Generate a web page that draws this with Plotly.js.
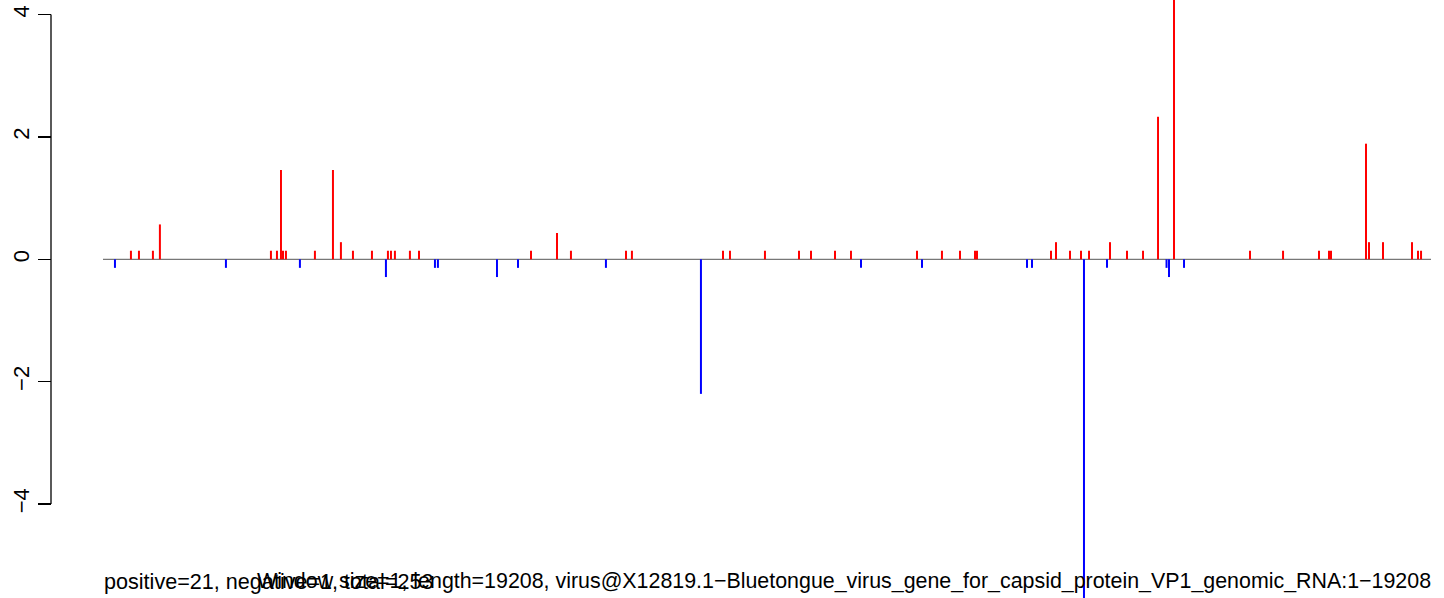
<!DOCTYPE html>
<html>
<head>
<meta charset="utf-8">
<script src="https://cdn.plot.ly/plotly-3.0.1.min.js"></script>
<style>html,body{margin:0;padding:0;background:#fff;}#chart{width:1444px;height:598px;}</style>
</head>
<body>
<div id="chart"></div>
<script>
// Genome length (x extent of the baseline)
const genomeLength = 19208;

// Positive scores (red): positions and values
const posPositions = [405, 521, 723, 824, 2430, 2517, 2575, 2604, 2647, 3066,
  3327, 3442, 3616, 3891, 4122, 4166, 4223, 4440, 4571, 6191,
  6567, 6769, 7565, 7651, 8968, 9069, 9575, 10067, 10241, 10588,
  10819, 11774, 12135, 12396, 12613, 12642, 13712, 13784, 13987, 14146,
  14262, 14565, 14811, 15043, 15260, 15491, 16590, 17068, 17588, 17733,
  17762, 18268, 18311, 18514, 18933, 19020, 19064];
const posValues = [0.14, 0.14, 0.14, 0.57, 0.14, 0.14, 1.46, 0.14, 0.14, 0.14,
  1.46, 0.28, 0.14, 0.14, 0.14, 0.14, 0.14, 0.14, 0.14, 0.14,
  0.43, 0.14, 0.14, 0.14, 0.14, 0.14, 0.14, 0.14, 0.14, 0.14,
  0.14, 0.14, 0.14, 0.14, 0.14, 0.14, 0.14, 0.28, 0.14, 0.14,
  0.14, 0.28, 0.14, 0.14, 2.33, 4.5, 0.14, 0.14, 0.14, 0.14,
  0.14, 1.89, 0.28, 0.28, 0.28, 0.14, 0.14];

// Negative scores (blue): positions and values
const negPositions = [174, 1779, 2849, 4093, 4802, 4845, 5699, 6003, 7275, 8649,
  10964, 11846, 13365, 13437, 14189, 14522, 15383, 15419, 15636];
const negValues = [-0.14, -0.14, -0.14, -0.29, -0.14, -0.14, -0.29, -0.14, -0.14, -2.2,
  -0.14, -0.14, -0.14, -0.14, -6.0, -0.14, -0.14, -0.29, -0.14];

// Y axis ticks
const yTickVals = [-4, -2, 0, 2, 4];

// Text lines
const leftText = "positive=21, negative=1, total=253";
const rightText = "Window size=1, length=19208, virus@X12819.1\u2212Bluetongue_virus_gene_for_capsid_protein_VP1_genomic_RNA:1\u221219208";

function spikes(pos, vals) {
  const x = [], y = [];
  for (let i = 0; i < pos.length; i++) {
    x.push(pos[i], pos[i], null);
    y.push(0, vals[i], null);
  }
  return {x, y};
}

const pS = spikes(posPositions, posValues);
const nS = spikes(negPositions, negValues);

const FONT = "Liberation Sans, Arial, Helvetica, sans-serif";
const FS = 22;
const FS_LEFT = 21.6;
const FS_RIGHT = 21.4;

const traces = [
  {x: [1, genomeLength], y: [0, 0], type: 'scatter', mode: 'lines',
   line: {color: '#777777', width: 1.2}, hoverinfo: 'skip', showlegend: false},
  {x: pS.x, y: pS.y, type: 'scatter', mode: 'lines', connectgaps: false,
   line: {color: '#FF0000', width: 2}, showlegend: false},
  {x: nS.x, y: nS.y, type: 'scatter', mode: 'lines', connectgaps: false,
   line: {color: '#0000FF', width: 2}, showlegend: false}
];

const layout = {
  width: 1444, height: 598,
  margin: {l: 51, r: 13, t: 0, b: 0, pad: 0},
  paper_bgcolor: '#ffffff', plot_bgcolor: '#ffffff',
  showlegend: false,
  font: {family: FONT, size: FS, color: '#000'},
  xaxis: {domain: [52/1380, 1], range: [1, genomeLength], visible: false, fixedrange: true},
  yaxis: {range: [-5.537, 4.239], anchor: 'free', position: 0,
    tickmode: 'array', tickvals: yTickVals, ticktext: yTickVals.map(v => v < 0 ? '\u2212' + Math.abs(v) : String(v)),
    ticks: 'outside', ticklen: 13, tickwidth: 1.3, tickcolor: '#000',
    tickangle: -90, tickfont: {family: FONT, size: FS, color: '#000'},
    showline: false, showgrid: false, zeroline: false, fixedrange: true},
  shapes: [
    {type: 'line', xref: 'paper', yref: 'y', x0: 0, x1: 0, y0: -4, y1: 4,
     line: {color: '#000', width: 1.3}}
  ],
  annotations: [
    {text: leftText, xref: 'paper', yref: 'paper', x: 51/1380, y: 0.028,
     xanchor: 'left', yanchor: 'middle', showarrow: false,
     font: {family: FONT, size: FS_LEFT, color: '#000'}},
    {text: rightText, xref: 'paper', yref: 'paper', x: 1 + 2/1380, y: 0.028,
     xanchor: 'right', yanchor: 'middle', showarrow: false,
     font: {family: FONT, size: FS_RIGHT, color: '#000'}}
  ]
};

Plotly.newPlot('chart', traces, layout, {staticPlot: true, displayModeBar: false});
</script>
</body>
</html>
